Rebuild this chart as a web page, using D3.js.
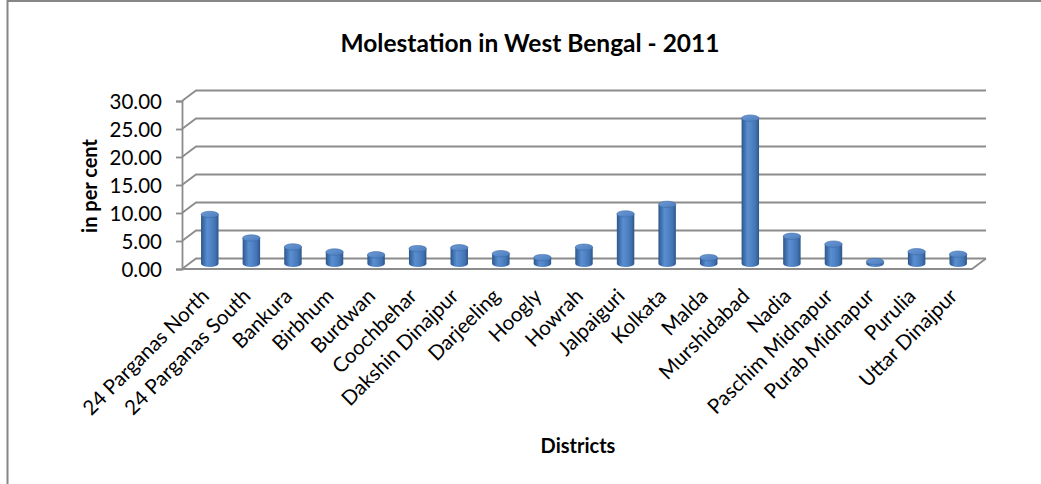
<!DOCTYPE html>
<html>
<head>
<meta charset="utf-8">
<script src="https://cdn.jsdelivr.net/npm/d3@7"></script>
<style>
  html, body { margin: 0; padding: 0; background: #fff; }
  svg { display: block; }
  text { font-family: Lato, "Open Sans", sans-serif; fill: #000; }
</style>
</head>
<body>
<svg id="chart" width="1041" height="484"></svg>
<script>
// Districts of West Bengal, molestation cases as a share of the state total (2011)
const categories = [
  "24 Parganas North", "24 Parganas South", "Bankura", "Birbhum", "Burdwan",
  "Coochbehar", "Dakshin Dinajpur", "Darjeeling", "Hoogly", "Howrah",
  "Jalpaiguri", "Kolkata", "Malda", "Murshidabad", "Nadia",
  "Paschim Midnapur", "Purab Midnapur", "Purulia", "Uttar Dinajpur"
];
const values = [
  8.8, 4.6, 3.0, 2.1, 1.6,
  2.7, 2.85, 1.8, 1.1, 2.95,
  8.9, 10.6, 1.1, 26.0, 4.9,
  3.5, 0.4, 2.15, 1.7
];
const yTicks = [0, 5, 10, 15, 20, 25, 30];

const titleText = "Molestation in West Bengal - 2011";
const yTitle = "in per cent";
const xTitle = "Districts";

const svg = d3.select("#chart");

// chart frame
svg.append("rect")
  .attr("x", 7.5).attr("y", 1)
  .attr("width", 1100).attr("height", 600)
  .attr("fill", "#fff")
  .attr("stroke", "#868686").attr("stroke-width", 2);

// plot geometry (front plane) and depth offset of the 3D box
const front = { left: 182, right: 972 };
const depth = { dx: 14, dy: -10.5 };

const x = d3.scaleBand().domain(categories).range([front.left, front.right]);
const y = d3.scaleLinear().domain([0, 30]).range([269, 101]);

const defs = svg.append("defs");
const bodyGrad = defs.append("linearGradient").attr("id", "cylBody")
  .attr("x1", 0).attr("x2", 1).attr("y1", 0).attr("y2", 0);
[[0, "#2c5688"], [0.12, "#3b6aa5"], [0.35, "#5a8ed0"], [0.55, "#5185c7"], [0.8, "#4374b3"], [1, "#2d5789"]]
  .forEach(([o, c]) => bodyGrad.append("stop").attr("offset", o).attr("stop-color", c));
const topGrad = defs.append("linearGradient").attr("id", "cylTop")
  .attr("x1", 0).attr("x2", 1).attr("y1", 0).attr("y2", 1);
[[0, "#6d9ad6"], [1, "#4a7cbc"]]
  .forEach(([o, c]) => topGrad.append("stop").attr("offset", o).attr("stop-color", c));

const gridColor = "#8c8c8c";

// back wall gridlines + left wall diagonals
const grid = svg.append("g");
yTicks.forEach(t => {
  const yf = y(t);
  grid.append("path")
    .attr("d", `M${front.left},${yf}L${front.left + depth.dx},${yf + depth.dy}H${front.right + depth.dx}`)
    .attr("fill", "none").attr("stroke", gridColor).attr("stroke-width", 1.8);
});

// floor: front edge and right diagonal
svg.append("path")
  .attr("d", `M${front.left},${y(0)}H${front.right}L${front.right + depth.dx},${y(0) + depth.dy}`)
  .attr("fill", "none").attr("stroke", gridColor).attr("stroke-width", 1.8);

// vertical axis with ticks
const yAxis = d3.axisLeft(y).tickValues(yTicks).tickSize(6).tickFormat(d3.format(".2f"));
const yAxisG = svg.append("g").attr("transform", `translate(${front.left},0)`).call(yAxis);
yAxisG.select(".domain").attr("stroke", gridColor).attr("stroke-width", 1.8);
yAxisG.selectAll(".tick line").attr("stroke", gridColor).attr("stroke-width", 1.8);
yAxisG.selectAll(".tick text")
  .attr("x", -20).attr("dy", "0.36em")
  .style("font-size", "20.5px").style("font-family", "Lato, sans-serif").attr("fill", "#000");

// cylinders, centred in the depth of the box
const rx = x.bandwidth() * 0.21;
const ry = 3.2;
const bars = svg.append("g");
categories.forEach((c, i) => {
  const cx = x(c) + x.bandwidth() / 2 + depth.dx / 2;
  const yb = y(0) + depth.dy / 2;
  const yt = y(values[i]) + depth.dy / 2;
  const g = bars.append("g");
  g.append("path")
    .attr("d", `M${cx - rx},${yt}V${yb}A${rx},${ry} 0 0 0 ${cx + rx},${yb}V${yt}Z`)
    .attr("fill", "url(#cylBody)");
  g.append("ellipse")
    .attr("cx", cx).attr("cy", yt).attr("rx", rx).attr("ry", ry)
    .attr("fill", "url(#cylTop)").attr("stroke", "#3e6ca6").attr("stroke-width", 0.6);
});

// category labels, rotated
const labels = svg.append("g");
categories.forEach(c => {
  const ax = x(c) + x.bandwidth() / 2 - 3;
  const ay = 287;
  labels.append("text")
    .attr("transform", `translate(${ax},${ay}) rotate(-45)`)
    .attr("text-anchor", "end")
    .attr("dy", "0.72em")
    .style("font-size", "20.5px")
    .text(c);
});

// titles
svg.append("text")
  .attr("x", 530).attr("y", 52)
  .attr("text-anchor", "middle")
  .style("font-size", "24.5px").style("font-weight", "bold")
  .text(titleText);

svg.append("text")
  .attr("transform", `translate(97,186) rotate(-90)`)
  .attr("text-anchor", "middle")
  .style("font-size", "20px").style("font-weight", "bold")
  .text(yTitle);

svg.append("text")
  .attr("x", 578).attr("y", 453)
  .attr("text-anchor", "middle")
  .style("font-size", "20px").style("font-weight", "bold")
  .text(xTitle);
</script>
</body>
</html>
